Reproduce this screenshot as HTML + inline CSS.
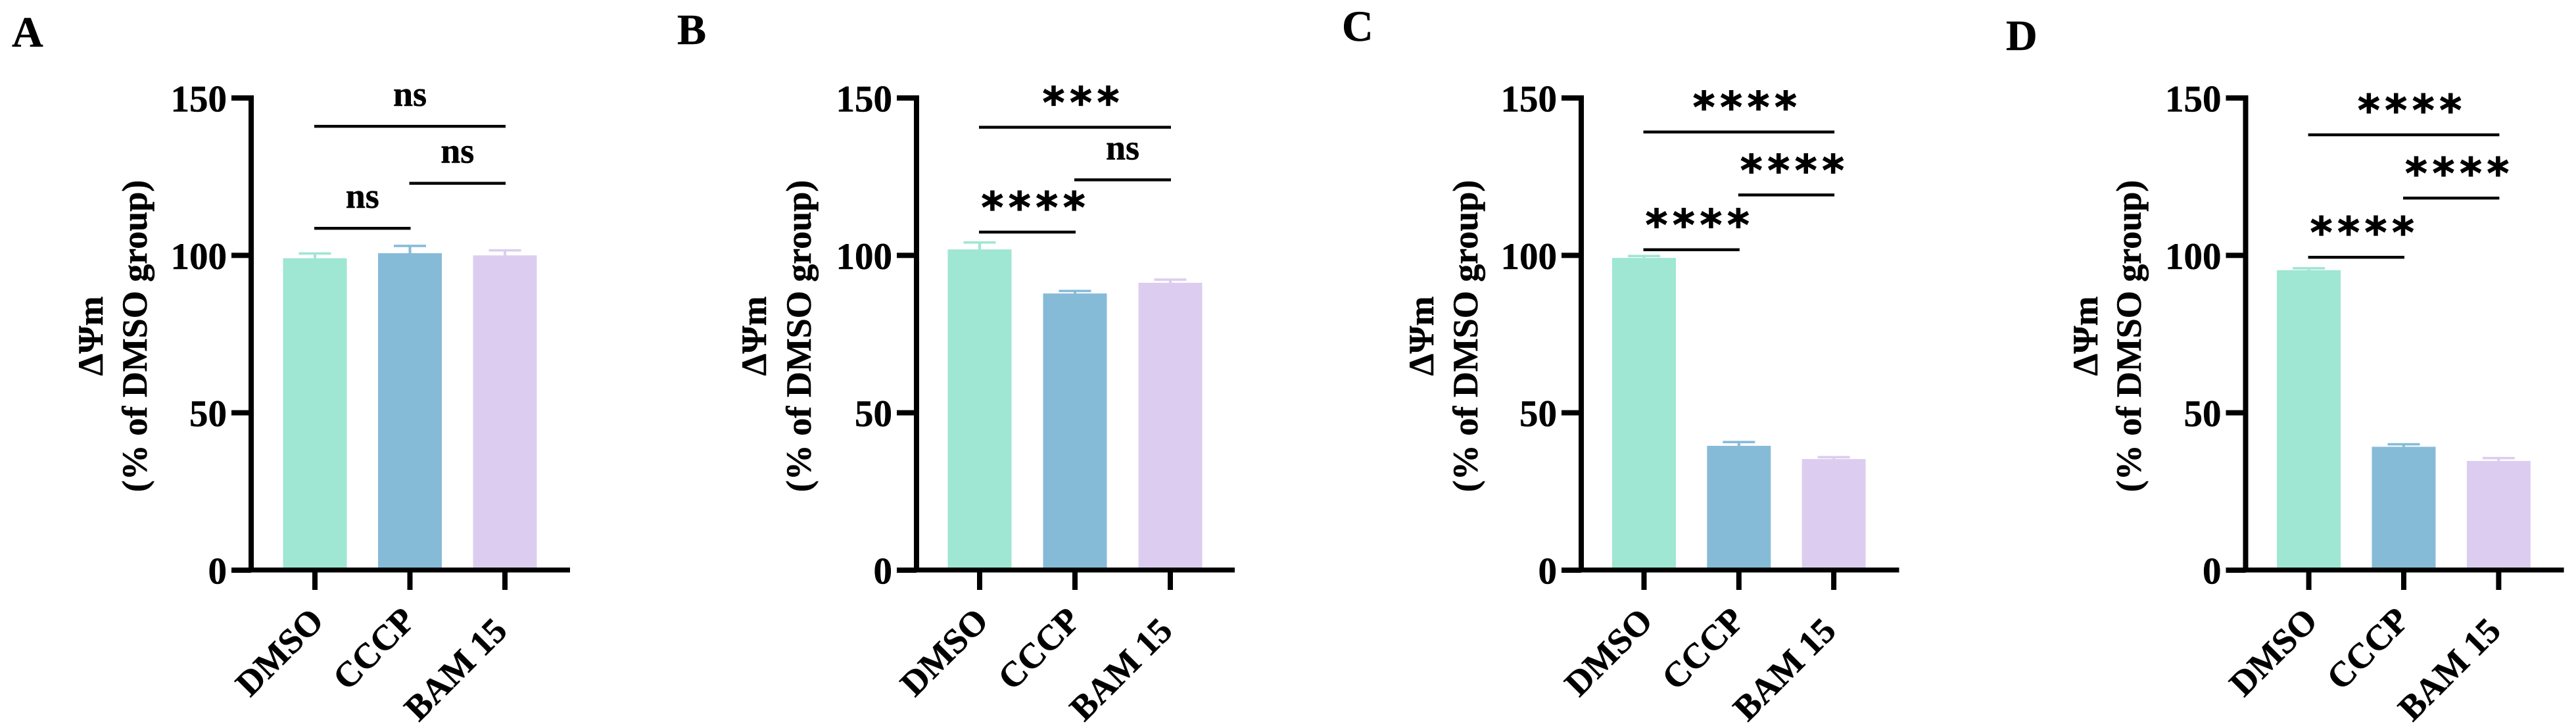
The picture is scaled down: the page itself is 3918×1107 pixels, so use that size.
<!DOCTYPE html>
<html>
<head>
<meta charset="utf-8">
<title>Mitochondrial membrane potential bar charts</title>
<style>
html,body{margin:0;padding:0;background:#fff;}
svg{display:block;}
text{font-family:"Liberation Serif",serif;font-weight:700;fill:#000;stroke:#000;stroke-width:0.5px;}
text.stars{font-family:"DejaVu Sans",sans-serif;font-weight:700;stroke-width:1.2px;}
</style>
</head>
<body>
<svg id="figure" xmlns="http://www.w3.org/2000/svg" width="3918" height="1107" viewBox="0 0 3918 1107"></svg>
<script>
// ---- chart data ----
const categories = ['DMSO', 'CCCP', 'BAM 15'];
const yTickValues = [0, 50, 100, 150];
const yMax = 150;
const panelLetters = ['A', 'B', 'C', 'D'];

const meansA = [99.1, 100.7, 100];
const meansB = [101.9, 87.9, 91.3];
const meansC = [99.2, 39.5, 35.3];
const meansD = [95.3, 39.2, 34.7];

const errorTopsA = [100.6, 103, 101.6];
const errorTopsB = [104.1, 88.7, 92.3];
const errorTopsC = [99.8, 40.7, 35.9];
const errorTopsD = [95.9, 40, 35.6];

const bracketHeightsA = [141, 122.9, 108.6];
const bracketHeightsB = [140.7, 124, 107.4];
const bracketHeightsC = [139.2, 119.2, 101.8];
const bracketHeightsD = [138.3, 118.2, 99.4];

const bracketLabelsA = ['ns', 'ns', 'ns'];
const bracketLabelsB = ['***', 'ns', '****'];
const bracketLabelsC = ['****', '****', '****'];
const bracketLabelsD = ['****', '****', '****'];

// ---- layout ----
const bracketPairs = [[0, 2], [1, 2], [0, 1]];
const barColors = ['#9FE6D3', '#86BBD8', '#DCCDF0'];
const Y0 = 867, YTOP = 149;
function yScale(v) { return Y0 - v * (Y0 - YTOP) / yMax; }

const panels = [
  {letter: panelLetters[0], lx: 18, ly: 71, axisX: 382, c0: 479, step: 144.5, means: meansA, errs: errorTopsA, brackets: bracketHeightsA, labels: bracketLabelsA, t1: 156, t2: 223},
  {letter: panelLetters[1], lx: 1030, ly: 67, axisX: 1394, c0: 1490, step: 145, means: meansB, errs: errorTopsB, brackets: bracketHeightsB, labels: bracketLabelsB, t1: 1165, t2: 1233},
  {letter: panelLetters[2], lx: 2041, ly: 62, axisX: 2405, c0: 2500.5, step: 144.3, means: meansC, errs: errorTopsC, brackets: bracketHeightsC, labels: bracketLabelsC, t1: 2180, t2: 2247},
  {letter: panelLetters[3], lx: 3051, ly: 76, axisX: 3415.5, c0: 3511.6, step: 144.4, means: meansD, errs: errorTopsD, brackets: bracketHeightsD, labels: bracketLabelsD, t1: 3190, t2: 3256}
];
const xLabelEndDx = [16, 11, 6];
const xLabelEndY = [947, 946, 962];

const NS = 'http://www.w3.org/2000/svg';
const fig = document.getElementById('figure');
function mk(tag, parent, attrs, txt) {
  const n = document.createElementNS(NS, tag);
  for (const k in attrs) n.setAttribute(k, attrs[k]);
  if (txt !== undefined) n.textContent = txt;
  parent.appendChild(n);
  return n;
}

panels.forEach(function (p) {
  const xScale = function (i) { return p.c0 + i * p.step; };
  const g = mk('g', fig, {});
  
  

  const letter = mk('text', g, {x: p.lx, y: p.ly, 'font-size': 66}, p.letter);
  
  

  // bars and error bars
  p.means.forEach(function (v, i) {
    const cx = xScale(i);
    const stem = mk('line', g, {x1: cx, x2: cx, y1: yScale(v), y2: yScale(p.errs[i]), stroke: barColors[i], 'stroke-width': 4});
    
    
    const cap = mk('line', g, {x1: cx - 24.5, x2: cx + 24.5, y1: yScale(p.errs[i]), y2: yScale(p.errs[i]), stroke: barColors[i], 'stroke-width': 3.6});
    
    
    const bar = mk('rect', g, {x: cx - 48.5, width: 97, y: yScale(v), height: Y0 - yScale(v), fill: barColors[i]});
    
    
  });

  // axes
  const yAxis = mk('rect', g, {x: p.axisX - 4, y: YTOP - 4, width: 8, height: Y0 - YTOP + 7.5, fill: '#000'});
  
  
  const xAxis = mk('rect', g, {x: p.axisX - 30, y: Y0 - 4, width: p.c0 + 388 - p.axisX + 30, height: 7.5, fill: '#000'});
  
  

  yTickValues.forEach(function (t) {
    const tick = mk('rect', g, {x: p.axisX - 30, y: yScale(t) - 4, width: 30, height: 8, fill: '#000'});
    
    
    const lab = mk('text', g, {x: p.axisX - 37, y: yScale(t) + 20.5, 'font-size': 57, 'text-anchor': 'end'}, String(t));
    
    
  });

  categories.forEach(function (c, i) {
    const cx = xScale(i);
    const tick = mk('rect', g, {x: cx - 4, y: Y0, width: 8, height: 30, fill: '#000'});
    
    
    const ex = cx + xLabelEndDx[i], ey = xLabelEndY[i];
    const lab = mk('text', g, {x: ex, y: ey, 'font-size': 54, 'text-anchor': 'end', transform: 'rotate(-45 ' + ex + ' ' + ey + ')'}, c);
    
    
  });

  // y-axis title
  const t1 = mk('text', g, {x: p.t1, y: 511, 'font-size': 54, 'text-anchor': 'middle', transform: 'rotate(-90 ' + p.t1 + ' 511)'}, '\u0394\u03A8m');
  
  
  const t2 = mk('text', g, {x: p.t2, y: 511, 'font-size': 54, 'text-anchor': 'middle', transform: 'rotate(-90 ' + p.t2 + ' 511)'}, '(% of DMSO group)');
  
  

  // significance brackets
  p.brackets.forEach(function (h, i) {
    const x1 = xScale(bracketPairs[i][0]), x2 = xScale(bracketPairs[i][1]);
    const yb = yScale(h);
    const line = mk('rect', g, {x: x1 - 1, y: yb - 2.2, width: x2 - x1 + 2, height: 4.4, fill: '#000'});
    
    
    const label = p.labels[i];
    const mid = (x1 + x2) / 2;
    let sig;
    if (label === 'ns') {
      sig = mk('text', g, {x: mid, y: yb - 31, 'font-size': 54, 'text-anchor': 'middle'}, label);
    } else {
      sig = mk('text', g, {x: mid + 9 + 4, y: yb - 47 + 32, 'font-size': 64, 'text-anchor': 'middle', 'letter-spacing': 8, 'class': 'stars'}, label);
    }
    
    
  });
});
</script>
</body>
</html>
